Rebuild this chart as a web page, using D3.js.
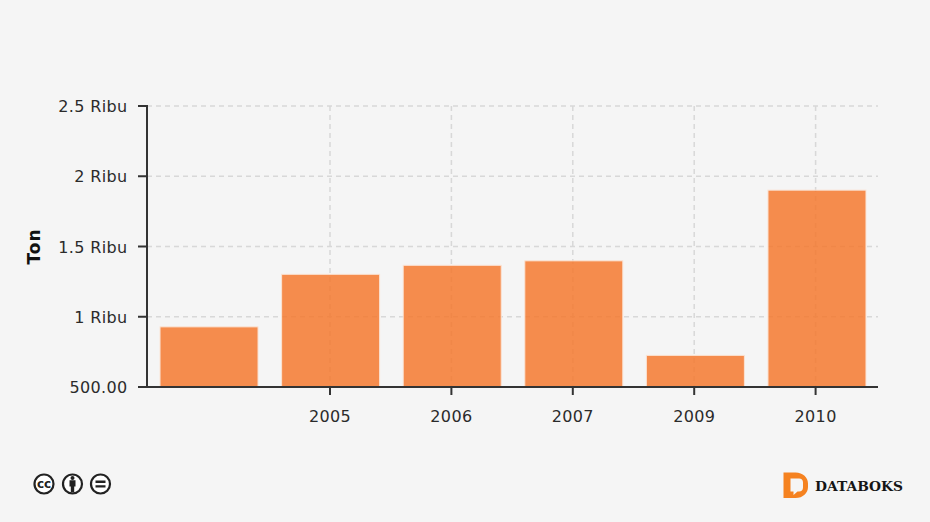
<!DOCTYPE html>
<html><head><meta charset="utf-8">
<script src="https://cdnjs.cloudflare.com/ajax/libs/d3/7.8.5/d3.min.js"></script>
<style>
html,body{margin:0;padding:0;background:#f5f5f5}
svg{display:block}
text{font-family:"DejaVu Sans",sans-serif;fill:#2b2b2b}
</style></head><body>
<svg id="c" width="930" height="522"></svg>
<script>
const categories = ["", "2005", "2006", "2007", "2009", "2010"];
const values = [928, 1302, 1366, 1398, 725, 1901];
const yTicks = [500, 1000, 1500, 2000, 2500];
const yTickLabels = ["500.00", "1 Ribu", "1.5 Ribu", "2 Ribu", "2.5 Ribu"];
const yTitle = "Ton";

const svg = d3.select("#c");
const m = {l:147, r:878, t:106, b:387};
const x = d3.scaleBand().domain(categories).range([147.5, 878.5]).paddingInner(0.194).paddingOuter(0.103);
const xTick = d3.scaleBand().domain(categories).range([147.9, 876.3]);
const y = d3.scaleLinear().domain([500, 2500]).range([m.b, m.t]);
const labelled = categories.filter(c => c !== "");
const cx = c => xTick(c) + xTick.bandwidth() / 2;

// grid
svg.append("g").selectAll("line").data(yTicks.slice(1)).join("line")
  .attr("x1", m.l).attr("x2", m.r).attr("y1", d => y(d)).attr("y2", d => y(d))
  .attr("stroke", "#d8d8d8").attr("stroke-width", 1.5).attr("stroke-dasharray", "5 4");
svg.append("g").selectAll("line").data(labelled).join("line")
  .attr("x1", d => cx(d)).attr("x2", d => cx(d)).attr("y1", m.t).attr("y2", m.b)
  .attr("stroke", "#d8d8d8").attr("stroke-width", 1.5).attr("stroke-dasharray", "5 4");

// bars
svg.append("g").selectAll("rect").data(categories).join("rect")
  .attr("x", d => x(d)).attr("width", x.bandwidth())
  .attr("y", (d, i) => y(values[i])).attr("height", (d, i) => m.b - y(values[i]))
  .attr("fill", "#f5792f").attr("fill-opacity", .85)
  .attr("stroke", "#fbe3d4").attr("stroke-width", 1);

// axes
const yAxis = d3.axisLeft(y).offset(0).tickValues(yTicks).tickFormat((d, i) => yTickLabels[i]).tickSize(9).tickPadding(10.5);
const gy = svg.append("g").attr("transform", `translate(${m.l},0)`).call(yAxis);
const xAxis = d3.axisBottom(xTick).offset(0).tickValues(labelled).tickSize(8).tickPadding(11);
const gx = svg.append("g").attr("transform", `translate(0,${m.b})`).call(xAxis);
[gy, gx].forEach(g => {
  g.attr("font-family", null).attr("font-size", null);
  g.selectAll("text").style("font-size", "16px").style("letter-spacing", ".35px").style("fill", "#2b2b2b");
  g.selectAll("line,path").attr("stroke", "#333").attr("stroke-width", 2);
});
gy.selectAll("text").attr("dy", "0.38em");
gx.selectAll("text").attr("dy", "1em");
gy.select("path").attr("d", `M0,${m.t - 1}V${m.b}`);
gx.select("path").attr("d", `M${m.l - 9},0H${m.r}`);

svg.append("text").text(yTitle)
  .attr("transform", `translate(40,246.5) rotate(-90)`)
  .attr("text-anchor", "middle").style("font-size", "17px").style("letter-spacing", "1px")
  .style("font-weight", "700").style("fill", "#111");

// licence icons
const ic = svg.append("g");
[44, 72.5, 100.5].forEach(cxx => ic.append("circle").attr("cx", cxx).attr("cy", 484).attr("r", 9.5)
  .attr("fill", "#fff").attr("stroke", "#222").attr("stroke-width", 2.2));
ic.append("text").text("cc").attr("x", 44).attr("y", 488).attr("text-anchor", "middle")
  .style("font-size", "12px").style("font-weight", "700").style("fill", "#222");
ic.append("circle").attr("cx", 72.5).attr("cy", 478).attr("r", 2).attr("fill", "#222");
ic.append("path").attr("d", "M69.500 480.300h6v6.200h-1.300v6h-3.400v-6h-1.300z").attr("fill", "#222");
ic.append("path").attr("d", "M95.500 480.500h10v2.400h-10zM95.500 485.200h10v2.400h-10z").attr("fill", "#222");

// logo
svg.append("path").attr("fill-rule", "evenodd").attr("fill", "#f58220")
  .attr("d", "M783.500 472.500h12c7.500 0 12.500 5 12.500 11v3.500c0 6-5 11-12.500 11h-12zM790.500 478.500v13h3v3.500l4-3.500h1.500c2.500 0 4-1.500 4-4v-5c0-2.500-1.500-4-4-4z");
svg.append("text").text("DATABOKS").attr("x", 815).attr("y", 491)
  .style("font-family", "'DejaVu Serif',serif").style("font-weight", "700").style("font-size", "13.8px").style("fill", "#151515");
</script>
</body></html>
